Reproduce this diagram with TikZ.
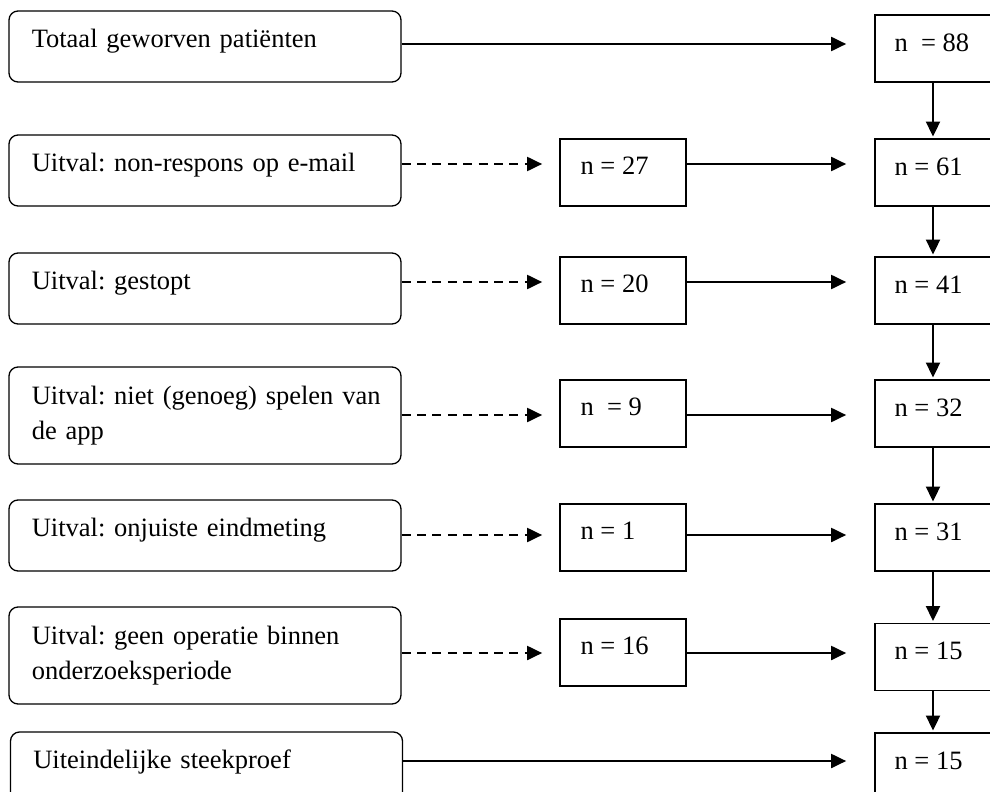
\documentclass[tikz,border=0pt]{standalone}
\usepackage{fontspec}
\setmainfont{Liberation Serif}
\usetikzlibrary{arrows.meta}
\frenchspacing
\begin{document}
\begin{tikzpicture}[x=0.5pt,y=-0.5pt,
  font=\fontsize{13.25}{17.75}\selectfont\frenchspacing,
  lbox/.style={draw, line width=0.65pt, rounded corners=4.5pt, minimum width=196pt, minimum height=35.5pt, inner sep=0pt},
  lboxtall/.style={lbox, minimum height=48.5pt},
  mbox/.style={draw, line width=0.85pt, minimum width=63pt, minimum height=33.5pt, inner sep=0pt},
  rbox/.style={draw, line width=0.85pt, minimum width=58pt, minimum height=33.5pt, inner sep=0pt},
  ltxt/.style={anchor=base west, inner sep=0pt, text width=185pt, align=left},
  ntxt/.style={anchor=base west, inner sep=0pt},
  tip/.style={-{Triangle[length=7.5pt,width=7pt]}},
  solidarr/.style={tip, line width=1pt, shorten >=14pt},
  dasharr/.style={tip, line width=1pt, dash pattern=on 4.5pt off 3.2pt, shorten >=8.5pt},
  midarr/.style={tip, line width=1pt, shorten >=14pt},
  varr/.style={tip, line width=1pt, shorten >=0.8pt}]
\useasboundingbox (0,0) rectangle (990,792);
\clip (0,0) rectangle (990,792);

% left boxes
\node[lbox] (L1) at (205,46.5) {};
\node[lbox] (L2) at (205,170.5) {};
\node[lbox] (L3) at (205,288.5) {};
\node[lboxtall] (L4) at (205,415.5) {};
\node[lbox] (L5) at (205,535.5) {};
\node[lboxtall] (L6) at (205,655.5) {};
\node[lbox] (L7) at (206.5,767.5) {};

\node[ltxt] (tL1) at ([xshift=11.5pt,yshift=-18.5pt]L1.north west) {Totaal geworven patiënten};
\node[ltxt] (tL2) at ([xshift=11.5pt,yshift=-18.5pt]L2.north west) {Uitval: non-respons op e-mail};
\node[ltxt] (tL3) at ([xshift=11.5pt,yshift=-18.5pt]L3.north west) {Uitval: gestopt};
\node[ltxt] (tL4) at ([xshift=11.5pt,yshift=-19pt]L4.north west) {Uitval: niet (genoeg) spelen van\\de app};
\node[ltxt] (tL5) at ([xshift=11.5pt,yshift=-18.5pt]L5.north west) {Uitval: onjuiste eindmeting};
\node[ltxt] (tL6) at ([xshift=11.5pt,yshift=-19pt]L6.north west) {Uitval: geen operatie binnen\\onderzoeksperiode};
\node[ltxt] (tL7) at ([xshift=11.5pt,yshift=-18.5pt]L7.north west) {Uiteindelijke steekproef};

% middle boxes
\node[mbox] (M1) at (623,172.5) {};
\node[mbox] (M2) at (623,290.5) {};
\node[mbox] (M3) at (623,413.5) {};
\node[mbox] (M4) at (623,537.5) {};
\node[mbox] (M5) at (623,652.5) {};

\node[ntxt] (tM1) at ([xshift=10.5pt,yshift=-18pt]M1.north west) {n = 27};
\node[ntxt] (tM2) at ([xshift=10.5pt,yshift=-18pt]M2.north west) {n = 20};
\node[ntxt] (tM3) at ([xshift=10.5pt,yshift=-18pt]M3.north west) {n\ \ = 9};
\node[ntxt] (tM4) at ([xshift=10.5pt,yshift=-18pt]M4.north west) {n = 1};
\node[ntxt] (tM5) at ([xshift=10.5pt,yshift=-18pt]M5.north west) {n = 16};

% right boxes
\node[rbox] (R1) at (933,48.5) {};
\node[rbox] (R2) at (933,172.5) {};
\node[rbox] (R3) at (933,290.5) {};
\node[rbox] (R4) at (933,413.5) {};
\node[rbox] (R5) at (933,537.5) {};
\node[rbox] (R6) at (933,657) {};
\node[rbox] (R7) at (933,766.5) {};

\node[ntxt] (tR1) at ([xshift=10pt,yshift=-18.5pt]R1.north west) {n\ \ = 88};
\node[ntxt] (tR2) at ([xshift=10pt,yshift=-18.5pt]R2.north west) {n = 61};
\node[ntxt] (tR3) at ([xshift=10pt,yshift=-18.5pt]R3.north west) {n = 41};
\node[ntxt] (tR4) at ([xshift=10pt,yshift=-18.5pt]R4.north west) {n = 32};
\node[ntxt] (tR5) at ([xshift=10pt,yshift=-18.5pt]R5.north west) {n = 31};
\node[ntxt] (tR6) at ([xshift=10pt,yshift=-18.5pt]R6.north west) {n = 15};
\node[ntxt] (tR7) at ([xshift=10pt,yshift=-18.5pt]R7.north west) {n = 15};

% row levels of the connectors
\coordinate (r1) at (0,44);
\coordinate (r2) at (0,164);
\coordinate (r3) at (0,282);
\coordinate (r4) at (0,415);
\coordinate (r5) at (0,535);
\coordinate (r6) at (0,653);
\coordinate (r7) at (0,761);

% connectors
\draw[solidarr] (L1.east |- r1) -- (R1.west |- r1);
\draw[dasharr] (L2.east |- r2) -- (M1.west |- r2);
\draw[dasharr] (L3.east |- r3) -- (M2.west |- r3);
\draw[dasharr] (L4.east |- r4) -- (M3.west |- r4);
\draw[dasharr] (L5.east |- r5) -- (M4.west |- r5);
\draw[dasharr] (L6.east |- r6) -- (M5.west |- r6);
\draw[midarr] (M1.east |- r2) -- (R2.west |- r2);
\draw[midarr] (M2.east |- r3) -- (R3.west |- r3);
\draw[midarr] (M3.east |- r4) -- (R4.west |- r4);
\draw[midarr] (M4.east |- r5) -- (R5.west |- r5);
\draw[midarr] (M5.east |- r6) -- (R6.west |- r6);
\draw[solidarr] (L7.east |- r7) -- (R7.west |- r7);

\draw[varr] (R1.south) -- (R2.north);
\draw[varr] (R2.south) -- (R3.north);
\draw[varr] (R3.south) -- (R4.north);
\draw[varr] (R4.south) -- (R5.north);
\draw[varr] (R5.south) -- (R6.north);
\draw[varr] (R6.south) -- (R7.north);
\end{tikzpicture}
\end{document}
